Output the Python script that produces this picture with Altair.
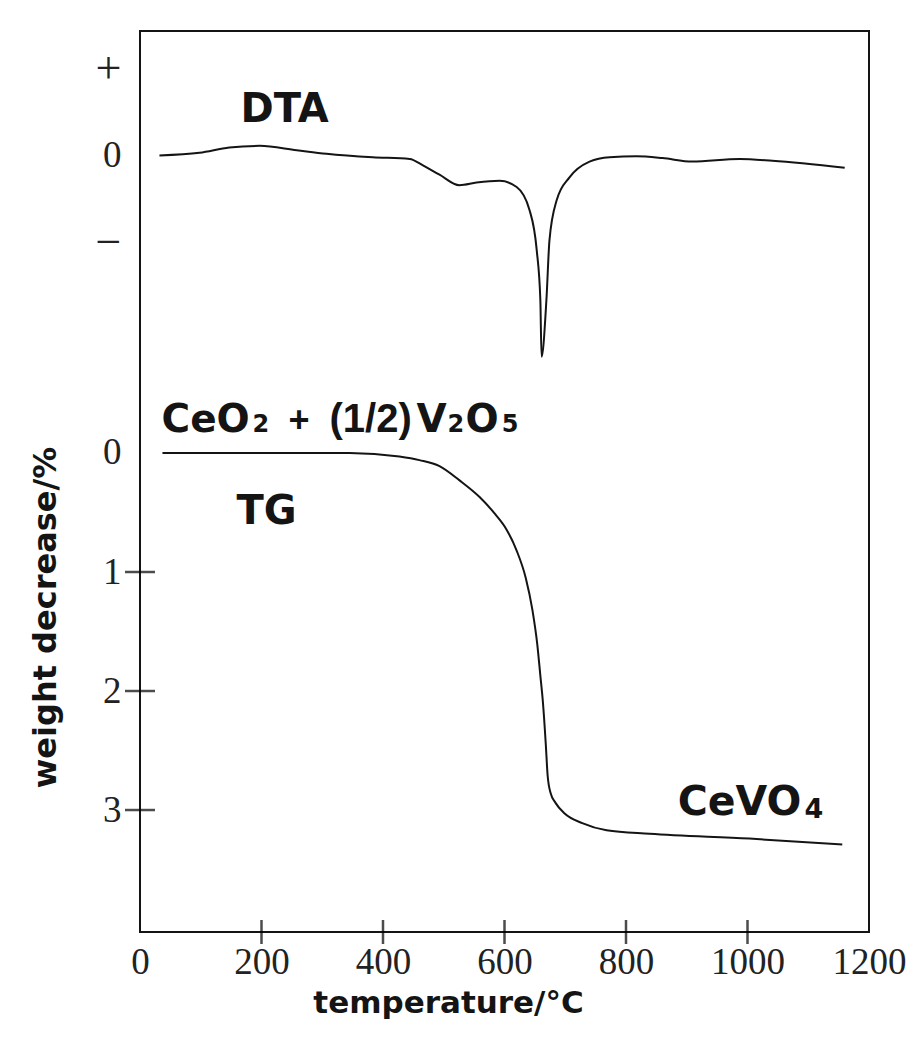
import altair as alt
import pandas as pd

# ---- TG curve: temperature (°C) vs weight decrease (%)
tg_temp = [37, 180, 345, 427, 460, 493, 526, 559, 584, 603, 620, 635, 646, 654, 659, 663, 668, 671,
           676, 684, 699, 728, 768, 839, 1003, 1156]
tg_loss = [0.0, 0.0, 0.0, 0.03, 0.06, 0.11, 0.23, 0.37, 0.51, 0.64, 0.82, 1.05, 1.32, 1.61, 1.87, 2.08,
           2.45, 2.71, 2.86, 2.94, 3.03, 3.11, 3.17, 3.20, 3.24, 3.29]

# ---- DTA curve: temperature (°C) vs signal (+1 / -1 at the axis marks)
dta_temp = [32, 98, 147, 197, 258, 307, 383, 444, 465, 493, 526, 554, 592, 620, 641, 653, 659, 661,
            669, 674, 686, 707, 740, 773, 817, 860, 909, 987, 1041, 1160]
dta_sig = [0.0, 0.03, 0.09, 0.11, 0.06, 0.02, -0.02, -0.04, -0.11, -0.22, -0.34, -0.31, -0.29, -0.36,
           -0.62, -1.08, -1.65, -2.30, -1.65, -0.97, -0.51, -0.25, -0.07, -0.02, -0.01, -0.03, -0.07,
           -0.04, -0.06, -0.14]

# DTA trace sits above the TG trace on the shared vertical axis (TG % units)
DTA_ZERO = -2.5
DTA_UNIT = 0.735

x_ticks = [0, 200, 400, 600, 800, 1000, 1200]
x_inner_ticks = [200, 400, 600, 800, 1000]
y_long_ticks = [1, 2, 3]
y_label_values = [DTA_ZERO - DTA_UNIT, DTA_ZERO, DTA_ZERO + DTA_UNIT, 0, 1, 2, 3]

# in-plot labels: text, temperature, weight position, font size
lab_sans_text = ["DTA", "TG", "CeVO", "4", "CeO", "2", "V", "2", "O", "5"]
lab_sans_T = [165.4, 158.8, 885.0, 1094.0, 35.4, 185.2, 455.1, 506.1, 536.0, 595.5]
lab_sans_w = [-2.782, 0.597, 3.042, 3.067, -0.176, -0.176, -0.176, -0.176, -0.176, -0.176]
lab_sans_fs = [40, 40, 41, 27, 39, 24, 39, 24, 39, 24]

lab_lib_text = ["+", "(1/2)"]
lab_lib_T = [244.4, 311.9]
lab_lib_w = [-0.176, -0.176]
lab_lib_fs = [36, 40]

INK = "#141414"
W, H = 729, 901
Y_DOMAIN = [-3.546, 4.025]

tg_df = pd.DataFrame({"T": tg_temp, "w": tg_loss})
dta_df = pd.DataFrame({"T": dta_temp, "d": dta_sig})

x_scale = alt.Scale(domain=[0, 1200], nice=False, zero=False)
y_scale = alt.Scale(domain=Y_DOMAIN, reverse=True, nice=False, zero=False)

x_axis = alt.Axis(
    values=x_ticks, format="d", title="temperature/°C",
    ticks=False, domain=False, grid=False,
    labelFont="Liberation Serif", labelFontSize=37, labelColor="#222", labelPadding=12,
    labelFlush=False, labelOverlap=False,
    titleFont="DejaVu Sans", titleFontSize=31, titleFontWeight="bold", titleColor=INK,
    titleX=308, titleY=80, titleAnchor="start", titleAlign="center", titleBaseline="alphabetic",
)
label_expr = (
    f"datum.value < {DTA_ZERO - 0.3} ? '+' : "
    f"datum.value < {DTA_ZERO + 0.3} ? '0' : "
    f"datum.value < -1 ? '\u2212' : format(datum.value, 'd')"
)
sign_test = f"datum.value < -1 && abs(datum.value - ({DTA_ZERO})) > 0.3"
y_axis = alt.Axis(
    values=y_label_values, labelExpr=label_expr, title="weight decrease/%",
    ticks=False, domain=False, grid=False,
    labelFont="Liberation Serif", labelColor="#222", labelPadding=19,
    labelFontSize={"condition": {"test": sign_test, "value": 46}, "value": 37},
    labelOverlap=False, labelFlush=False,
    titleFont="DejaVu Sans", titleFontSize=32, titleFontWeight="bold", titleColor=INK,
    titleX=-85, titleY=586, titleAngle=270, titleAlign="center", titleBaseline="alphabetic",
)

tg_line = alt.Chart(tg_df).mark_line(color=INK, strokeWidth=2, interpolate="monotone").encode(
    x=alt.X("T:Q", scale=x_scale, axis=x_axis),
    y=alt.Y("w:Q", scale=y_scale, axis=y_axis),
)

dta_line = alt.Chart(dta_df).transform_calculate(
    w=f"{DTA_ZERO} - {DTA_UNIT} * datum.d"
).mark_line(color=INK, strokeWidth=2, interpolate="monotone").encode(
    x=alt.X("T:Q", scale=x_scale),
    y=alt.Y("w:Q", scale=y_scale),
)

# tick marks across the bottom and left frame lines
x_tick_marks = alt.Chart(pd.DataFrame({"T": x_inner_ticks})).mark_tick(
    color="black", thickness=2.5, size=24, orient="vertical"
).encode(x=alt.X("T:Q", scale=x_scale), y=alt.value(H))

y_long_marks = alt.Chart(pd.DataFrame({"w": y_long_ticks})).mark_tick(
    color="black", thickness=2.5, size=30, orient="horizontal"
).encode(y=alt.Y("w:Q", scale=y_scale), x=alt.value(0))

sans_df = pd.DataFrame({"t": lab_sans_text, "T": lab_sans_T, "w": lab_sans_w, "fs": lab_sans_fs})
lib_df = pd.DataFrame({"t": lab_lib_text, "T": lab_lib_T, "w": lab_lib_w, "fs": lab_lib_fs})

sans_labels = alt.Chart(sans_df).mark_text(
    font="DejaVu Sans", fontWeight="bold", align="left", baseline="alphabetic", color=INK
).encode(
    x=alt.X("T:Q", scale=x_scale), y=alt.Y("w:Q", scale=y_scale),
    text="t:N", size=alt.Size("fs:Q", scale=None, legend=None),
)
lib_labels = alt.Chart(lib_df).mark_text(
    font="Liberation Sans", fontWeight="bold", align="left", baseline="alphabetic", color=INK
).encode(
    x=alt.X("T:Q", scale=x_scale), y=alt.Y("w:Q", scale=y_scale),
    text="t:N", size=alt.Size("fs:Q", scale=None, legend=None),
)

chart = alt.layer(
    tg_line, dta_line, x_tick_marks, y_long_marks, sans_labels, lib_labels
).properties(
    width=W, height=H,
    padding={"left": 140, "top": 31, "right": 39, "bottom": 111},
    autosize=alt.AutoSizeParams(type="none"),
    background="white",
).configure_view(stroke=INK, strokeWidth=2)

chart.save("out.html", embed_options={"renderer": "svg", "actions": False})
